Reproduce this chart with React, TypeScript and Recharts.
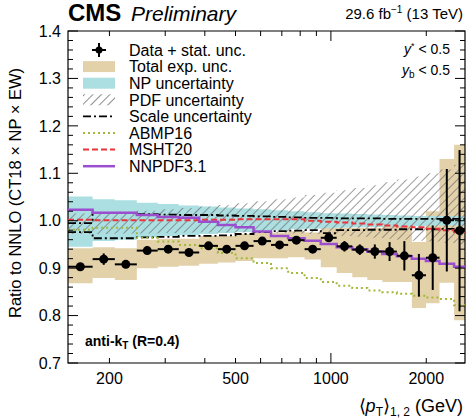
import {
  ComposedChart,
  Area,
  Line,
  Scatter,
  ErrorBar,
  XAxis,
  YAxis,
  ReferenceArea,
} from "recharts";

// pT,avg bin edges (GeV)
const binEdges = [
  148, 177, 208, 244, 284, 331, 384, 440, 500, 570, 647, 733, 826, 929, 1043,
  1168, 1303, 1453, 1615, 1801, 1995, 2202, 2448, 2650,
];

// data / theory ratio and statistical uncertainty per bin
const ratioData = [
  0.903, 0.919, 0.908, 0.937, 0.94, 0.933, 0.947, 0.94, 0.947, 0.957, 0.949,
  0.959, 0.94, 0.964, 0.946, 0.939, 0.935, 0.935, 0.926, 0.885, 0.922, 1.001,
  0.979,
];
const statErr = [
  0.004, 0.012, 0.005, 0.006, 0.006, 0.005, 0.005, 0.005, 0.005, 0.006, 0.006,
  0.006, 0.007, 0.008, 0.011, 0.011, 0.015, 0.02, 0.031, 0.045, 0.068, 0.108,
  0.17,
];

// total experimental uncertainty band
const expLow = [
  0.868, 0.879, 0.875, 0.9, 0.903, 0.905, 0.909, 0.912, 0.915, 0.921, 0.921,
  0.923, 0.918, 0.902, 0.89, 0.881, 0.875, 0.871, 0.871, 0.816, 0.826, 0.869,
  0.79,
];
const expHigh = [
  0.942, 0.944, 0.942, 0.96, 0.962, 0.962, 0.968, 0.968, 0.972, 0.975, 0.975,
  0.978, 0.975, 0.985, 0.985, 0.985, 0.985, 0.99, 0.99, 0.955, 1.02, 1.13,
  1.16,
];

// non-perturbative correction uncertainty
const npLow = [
  0.945, 0.957, 0.96, 0.965, 0.968, 0.97, 0.972, 0.974, 0.976, 0.978, 0.98,
  0.982, 0.983, 0.984, 0.985, 0.986, 0.987, 0.988, 0.988, 0.989, 0.99, 0.99,
  0.99,
];
const npHigh = [
  1.051, 1.045, 1.043, 1.038, 1.035, 1.032, 1.03, 1.028, 1.026, 1.024, 1.022,
  1.02, 1.018, 1.016, 1.015, 1.014, 1.013, 1.012, 1.011, 1.01, 1.01, 1.01,
  1.01,
];

// PDF uncertainty
const pdfLow = [
  0.972, 0.972, 0.973, 0.973, 0.974, 0.975, 0.975, 0.975, 0.975, 0.975, 0.974,
  0.973, 0.972, 0.97, 0.968, 0.966, 0.964, 0.962, 0.96, 0.958, 0.956, 0.953,
  0.95,
];
const pdfHigh = [
  1.015, 1.017, 1.019, 1.021, 1.024, 1.027, 1.03, 1.033, 1.037, 1.041, 1.045,
  1.049, 1.054, 1.059, 1.064, 1.069, 1.075, 1.081, 1.087, 1.093, 1.1, 1.108,
  1.118,
];

// scale variation envelope
const scaleLow = [
  0.976, 0.963, 0.963, 0.965, 0.966, 0.968, 0.968, 0.969, 0.972, 0.976, 0.978,
  0.979, 0.98, 0.974, 0.98, 0.98, 0.981, 0.981, 0.982, 0.982, 0.982, 0.983,
  0.983,
];
const scaleHigh = [
  0.995, 1.016, 1.016, 1.014, 1.013, 1.012, 1.012, 1.011, 1.01, 1.009, 1.008,
  1.007, 1.006, 1.006, 1.005, 1.005, 1.005, 1.004, 1.004, 1.004, 1.004, 1.004,
  1.004,
];

// alternative PDF sets
const abmp16 = [
  0.981, 0.985, 0.985, 0.964, 0.956, 0.949, 0.942, 0.932, 0.921, 0.911, 0.9,
  0.89, 0.879, 0.871, 0.863, 0.858, 0.853, 0.849, 0.846, 0.842, 0.838, 0.835,
  0.822,
];
const msht20 = [
  1.002, 1.001, 1.001, 1.001, 1.001, 1.001, 1.002, 1.002, 1.003, 1.003, 1.003,
  1.003, 1.0, 0.998, 0.996, 0.994, 0.992, 0.99, 0.988, 0.986, 0.983, 0.98,
  0.976,
];
const nnpdf31 = [
  1.023, 1.017, 1.017, 1.012, 1.008, 1.006, 0.998, 0.991, 0.986, 0.977, 0.968,
  0.963, 0.958, 0.951, 0.944, 0.94, 0.935, 0.93, 0.925, 0.92, 0.915, 0.909,
  0.903,
];

const xTicks = [200, 300, 400, 500, 600, 700, 800, 900, 1000, 2000];
const xLabels = [200, 500, 1000, 2000];
const yLabels = [0.7, 0.8, 0.9, 1.0, 1.1, 1.2, 1.3, 1.4];

const W = 466;
const H = 418;
const PLOT = { left: 68, right: 465, top: 31, bottom: 363 };
const FONT = "'Liberation Sans', Arial, Helvetica, sans-serif";

const TAN = "#e3d1aa";
const CYAN = "#abdfe1";
const PURPLE = "#9b4fcf";
const RED = "#e8353b";
const GREEN = "#a3b83a";
const HATCH = "#6f6f6f";

// minor y ticks every 0.02
const yTicks: number[] = [];
for (let i = 0; i < yLabels.length - 1; i++) {
  for (let k = 0; k < 5; k++) yTicks.push(+(yLabels[i] + k * 0.02).toFixed(2));
}
yTicks.push(yLabels[yLabels.length - 1]);

// one row per edge, last bin repeated so stepAfter closes the final bin
const nBins = binEdges.length - 1;
const stepRows = binEdges.map((x, i) => {
  const b = Math.min(i, nBins - 1);
  return {
    x,
    exp: [expLow[b], expHigh[b]],
    np: [npLow[b], npHigh[b]],
    pdf: [pdfLow[b], pdfHigh[b]],
    scaleLo: scaleLow[b],
    scaleHi: scaleHigh[b],
    abmp: abmp16[b],
    msht: msht20[b],
    nnpdf: nnpdf31[b],
  };
});

const points = ratioData.map((y, i) => {
  const lo = binEdges[i];
  const hi = binEdges[i + 1];
  const x = Math.sqrt(lo * hi);
  return { x, y, ex: [x - lo, hi - x], ey: statErr[i] };
});

function XTick(props: any) {
  const { x, payload } = props;
  const v = payload.value;
  const len = v === 1000 ? 10 : 5;
  return (
    <g>
      <line x1={x} x2={x} y1={PLOT.bottom} y2={PLOT.bottom - len} stroke="#000" />
      <line x1={x} x2={x} y1={PLOT.top} y2={PLOT.top + len} stroke="#000" />
      {xLabels.includes(v) && (
        <text x={x} y={PLOT.bottom + 21} textAnchor="middle" fontSize={16} fontFamily={FONT} fill="#000">
          {v}
        </text>
      )}
    </g>
  );
}

function YTick(props: any) {
  const { y, payload } = props;
  const v = payload.value;
  const major = yLabels.some((l) => Math.abs(l - v) < 1e-6);
  const len = major ? 10 : 5;
  return (
    <g>
      <line x1={PLOT.left} x2={PLOT.left + len} y1={y} y2={y} stroke="#000" />
      <line x1={PLOT.right} x2={PLOT.right - len} y1={y} y2={y} stroke="#000" />
      {major && (
        <text x={PLOT.left - 7} y={y} dy="0.36em" textAnchor="end" fontSize={16} fontFamily={FONT} fill="#000">
          {v.toFixed(1)}
        </text>
      )}
    </g>
  );
}

const Dot = (p: any) => <circle cx={p.cx} cy={p.cy} r={4.5} fill="#000" />;

const legendRows = [
  "Data + stat. unc.",
  "Total exp. unc.",
  "NP uncertainty",
  "PDF uncertainty",
  "Scale uncertainty",
  "ABMP16",
  "MSHT20",
  "NNPDF3.1",
];

function LegendIcon({ idx, cy }: { idx: number; cy: number }) {
  const x0 = 83;
  const x1 = 115;
  switch (idx) {
    case 0:
      return (
        <g>
          <line x1={92} x2={106} y1={cy} y2={cy} stroke="#000" strokeWidth={2} />
          <line x1={99} x2={99} y1={cy - 7} y2={cy + 7} stroke="#000" strokeWidth={2} />
          <circle cx={99} cy={cy} r={3.5} fill="#000" />
        </g>
      );
    case 1:
      return <rect x={x0} y={cy - 5.5} width={x1 - x0} height={11} fill={TAN} />;
    case 2:
      return <rect x={x0} y={cy - 5.5} width={x1 - x0} height={11} fill={CYAN} />;
    case 3:
      return <rect x={x0} y={cy - 5.5} width={x1 - x0} height={11} fill="url(#pdfHatchLegend)" />;
    case 4:
      return <line x1={x0} x2={x1} y1={cy} y2={cy} stroke="#000" strokeWidth={1.8} strokeDasharray="8 3 2 3" />;
    case 5:
      return <line x1={x0} x2={x1} y1={cy} y2={cy} stroke={GREEN} strokeWidth={2} strokeDasharray="2 3" />;
    case 6:
      return <line x1={x0} x2={x1} y1={cy} y2={cy} stroke={RED} strokeWidth={2} strokeDasharray="6 3" />;
    default:
      return <line x1={x0} x2={x1} y1={cy} y2={cy} stroke={PURPLE} strokeWidth={2.5} />;
  }
}

function Annotations() {
  return (
    <svg
      width={W}
      height={H}
      style={{ position: "absolute", left: 0, top: 0, pointerEvents: "none" }}
      fontFamily={FONT}
    >
      <defs>
        <pattern id="pdfHatchLegend" patternUnits="userSpaceOnUse" width={6} height={6} patternTransform="rotate(45)">
          <line x1={0} y1={0} x2={0} y2={6} stroke={HATCH} strokeWidth={1.6} />
        </pattern>
      </defs>
      <text x={68} y={21} fontSize={24} fontWeight="bold">CMS</text>
      <text x={131} y={21} fontSize={21} fontStyle="italic">Preliminary</text>
      <text x={463} y={19} fontSize={15} textAnchor="end">
        29.6 fb
        <tspan dy={-6} fontSize={10}>−1</tspan>
        <tspan dy={6}> (13 TeV)</tspan>
      </text>
      <text x={450} y={54} fontSize={14} textAnchor="end">
        <tspan fontStyle="italic">y</tspan>
        <tspan dy={-5} fontSize={9}>*</tspan>
        <tspan dy={5}> &lt; 0.5</tspan>
      </text>
      <text x={450} y={75} fontSize={14} textAnchor="end">
        <tspan fontStyle="italic">y</tspan>
        <tspan dy={3} fontSize={10}>b</tspan>
        <tspan dy={-3}> &lt; 0.5</tspan>
      </text>
      <text x={85} y={346} fontSize={14} fontWeight="bold">
        anti-k
        <tspan dy={3} fontSize={10}>T</tspan>
        <tspan dy={-3}> (R=0.4)</tspan>
      </text>
      <text
        x={0}
        y={0}
        fontSize={16.5}
        textAnchor="middle"
        transform="translate(21,193) rotate(-90)"
      >
        Ratio to NNLO (CT18 × NP × EW)
      </text>
      <text x={463} y={412} fontSize={18} textAnchor="end">
        ⟨<tspan fontStyle="italic">p</tspan>
        <tspan dy={4} fontSize={12}>T</tspan>
        <tspan dy={-4}>⟩</tspan>
        <tspan dy={4} fontSize={12}>1, 2</tspan>
        <tspan dy={-4}> (GeV)</tspan>
      </text>
      {legendRows.map((label, i) => {
        const cy = 50 + i * 16.6;
        return (
          <g key={label}>
            <LegendIcon idx={i} cy={cy} />
            <text x={129} y={cy} dy="0.36em" fontSize={16}>
              {label}
            </text>
          </g>
        );
      })}
    </svg>
  );
}

export default function App() {
  return (
    <div style={{ position: "absolute", left: 0, top: 0, width: W, height: H, background: "#fff" }}>
      <ComposedChart
        width={W}
        height={H}
        data={stepRows}
        margin={{ top: PLOT.top, right: W - PLOT.right, bottom: 0, left: 0 }}
      >
        <defs>
          <pattern id="pdfHatch" patternUnits="userSpaceOnUse" width={6} height={6} patternTransform="rotate(45)">
            <line x1={0} y1={0} x2={0} y2={6} stroke={HATCH} strokeWidth={1.4} />
          </pattern>
        </defs>
        <XAxis
          dataKey="x"
          type="number"
          scale="log"
          domain={[148, 2650]}
          allowDataOverflow
          ticks={xTicks}
          tick={<XTick />}
          tickLine={false}
          axisLine={false}
          height={H - PLOT.bottom}
          interval={0}
        />
        <YAxis
          type="number"
          domain={[0.7, 1.4]}
          allowDataOverflow
          ticks={yTicks}
          tick={<YTick />}
          tickLine={false}
          axisLine={false}
          width={PLOT.left}
          interval={0}
        />
        <Area
          dataKey="exp"
          type="stepAfter"
          fill={TAN}
          fillOpacity={1}
          stroke="none"
          isAnimationActive={false}
          activeDot={false}
        />
        <Area
          dataKey="np"
          type="stepAfter"
          fill={CYAN}
          fillOpacity={1}
          stroke="none"
          isAnimationActive={false}
          activeDot={false}
        />
        <Area
          dataKey="pdf"
          type="stepAfter"
          fill="url(#pdfHatch)"
          fillOpacity={1}
          stroke="none"
          isAnimationActive={false}
          activeDot={false}
        />
        <Line
          dataKey="scaleHi"
          type="stepAfter"
          stroke="#000"
          strokeWidth={1.8}
          strokeDasharray="8 3 2 3"
          dot={false}
          activeDot={false}
          isAnimationActive={false}
        />
        <Line
          dataKey="scaleLo"
          type="stepAfter"
          stroke="#000"
          strokeWidth={1.8}
          strokeDasharray="8 3 2 3"
          dot={false}
          activeDot={false}
          isAnimationActive={false}
        />
        <Line
          dataKey="abmp"
          type="stepAfter"
          stroke={GREEN}
          strokeWidth={2}
          strokeDasharray="2 3"
          dot={false}
          activeDot={false}
          isAnimationActive={false}
        />
        <Line
          dataKey="msht"
          type="stepAfter"
          stroke={RED}
          strokeWidth={2}
          strokeDasharray="6 3"
          dot={false}
          activeDot={false}
          isAnimationActive={false}
        />
        <Line
          dataKey="nnpdf"
          type="stepAfter"
          stroke={PURPLE}
          strokeWidth={2.5}
          dot={false}
          activeDot={false}
          isAnimationActive={false}
        />
        <Scatter data={points} dataKey="y" shape={Dot} isAnimationActive={false}>
          <ErrorBar dataKey="ey" direction="y" width={0} stroke="#000" strokeWidth={2} />
          <ErrorBar dataKey="ex" direction="x" width={0} stroke="#000" strokeWidth={2} />
        </Scatter>
        <ReferenceArea
          x1={148}
          x2={2650}
          y1={0.7}
          y2={1.4}
          fill="none"
          stroke="#000"
          strokeWidth={1.2}
          ifOverflow="visible"
        />
      </ComposedChart>
      <Annotations />
    </div>
  );
}
